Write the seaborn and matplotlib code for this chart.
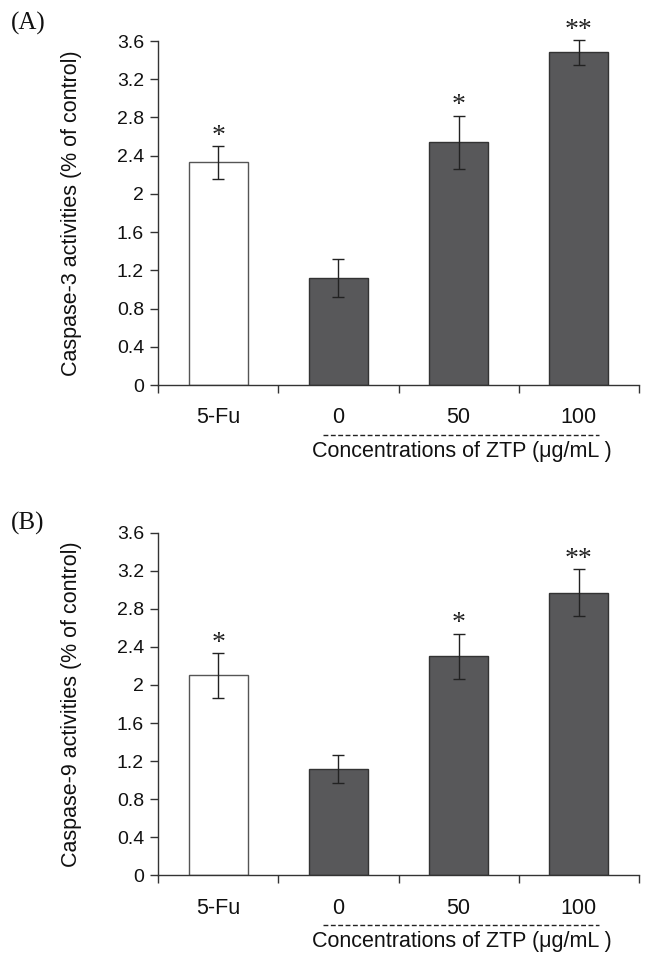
import matplotlib
matplotlib.use("Agg")
import matplotlib.pyplot as plt
import matplotlib.transforms as mtransforms
import seaborn as sns
import numpy as np
import pandas as pd

sns.set_theme(style="white")
plt.rcParams['font.family'] = ['Liberation Sans', 'DejaVu Sans']

categories = ["5-Fu", "0", "50", "100"]
casp3_values = [2.33, 1.12, 2.54, 3.48]
casp3_errors = [0.17, 0.20, 0.28, 0.13]
casp3_marks = ["*", "", "*", "**"]
casp9_values = [2.10, 1.12, 2.30, 2.97]
casp9_errors = [0.235, 0.145, 0.24, 0.245]
casp9_marks = ["*", "", "*", "**"]
yticks = [0, 0.4, 0.8, 1.2, 1.6, 2, 2.4, 2.8, 3.2, 3.6]
ytick_labels = ["0", "0.4", "0.8", "1.2", "1.6", "2", "2.4", "2.8", "3.2", "3.6"]
panel_labels = ["(A)", "(B)"]
ylabels = ["Caspase-3 activities (% of control)", "Caspase-9 activities (% of control)"]
xlabel = "Concentrations of ZTP (\u03bcg/mL )"

fig = plt.figure(figsize=(6.52, 9.64), dpi=100)
W, H = 652, 964

def make_panel(rect, values, errors, marks, plabel, ylabel, plabel_y):
    ax = fig.add_axes(rect)
    df = pd.DataFrame({"cat": categories, "val": values})
    palette = {"5-Fu": "white", "0": "#58585a", "50": "#58585a", "100": "#58585a"}
    sns.barplot(data=df, x="cat", y="val", hue="cat", palette=palette, legend=False,
                width=0.49, edgecolor="#333333", linewidth=1.0, ax=ax, errorbar=None)
    for p in ax.patches:
        if p.get_facecolor()[0] > 0.9:
            p.set_edgecolor("#555555")
    xs = np.arange(len(categories))
    ax.errorbar(xs, values, yerr=errors, fmt="none", ecolor="#222222", elinewidth=1.0,
                capsize=4, capthick=1.0, clip_on=False, zorder=5)
    for x, v, e, m in zip(xs, values, errors, marks):
        if m:
            ax.annotate(m, (x, v + e), xytext=(0, -2), textcoords="offset points",
                        ha="center", va="bottom", fontsize=20,
                        family=["Liberation Serif", "DejaVu Serif"], color="#222222",
                        annotation_clip=False)
    ax.set_xlim(-0.5, 3.5)
    ax.set_ylim(0, 3.6)
    ax.set_yticks(yticks)
    ax.set_yticklabels(ytick_labels, fontsize=14)
    ax.set_xticks(xs)
    ax.set_xticklabels(categories, fontsize=15.5)
    ax.set_xticks([-0.5, 0.5, 1.5, 2.5, 3.5], minor=True)
    ax.tick_params(axis="x", which="major", length=0, pad=16, labelcolor="#111111")
    ax.tick_params(axis="x", which="minor", length=6, width=1, direction="out",
                   color="#333333", bottom=True)
    ax.tick_params(axis="y", length=6, width=1, direction="out", color="#333333",
                   left=True, pad=4, labelcolor="#111111")
    for s in ["top", "right"]:
        ax.spines[s].set_visible(False)
    for s in ["left", "bottom"]:
        ax.spines[s].set_color("#333333")
        ax.spines[s].set_linewidth(1.0)
    ax.set_xlabel("")
    ax.set_ylabel(ylabel, fontsize=15.5, color="#111111")
    ax.yaxis.set_label_coords(-0.158, 0.5)
    trans = mtransforms.blended_transform_factory(ax.transData, ax.transAxes)
    ax.plot([0.87, 3.17], [-0.145, -0.145], transform=trans, color="#222222",
            linestyle=(0, (3.5, 1.8)), linewidth=1.0, clip_on=False)
    ax.text(2.03, -0.193, xlabel, transform=trans, ha="center", va="center",
            fontsize=15.5, color="#111111")
    fig.text(11 / W, 1 - plabel_y / H, plabel, ha="left", va="center", fontsize=18,
             family=["Liberation Serif", "DejaVu Serif"], color="#111111")
    return ax

make_panel([158 / W, (H - 385) / H, 481 / W, 344 / H], casp3_values, casp3_errors,
           casp3_marks, panel_labels[0], ylabels[0], 23)
make_panel([158 / W, (H - 875.3) / H, 481 / W, 342.6 / H], casp9_values, casp9_errors,
           casp9_marks, panel_labels[1], ylabels[1], 523)

fig.savefig("out.png", dpi=100)
